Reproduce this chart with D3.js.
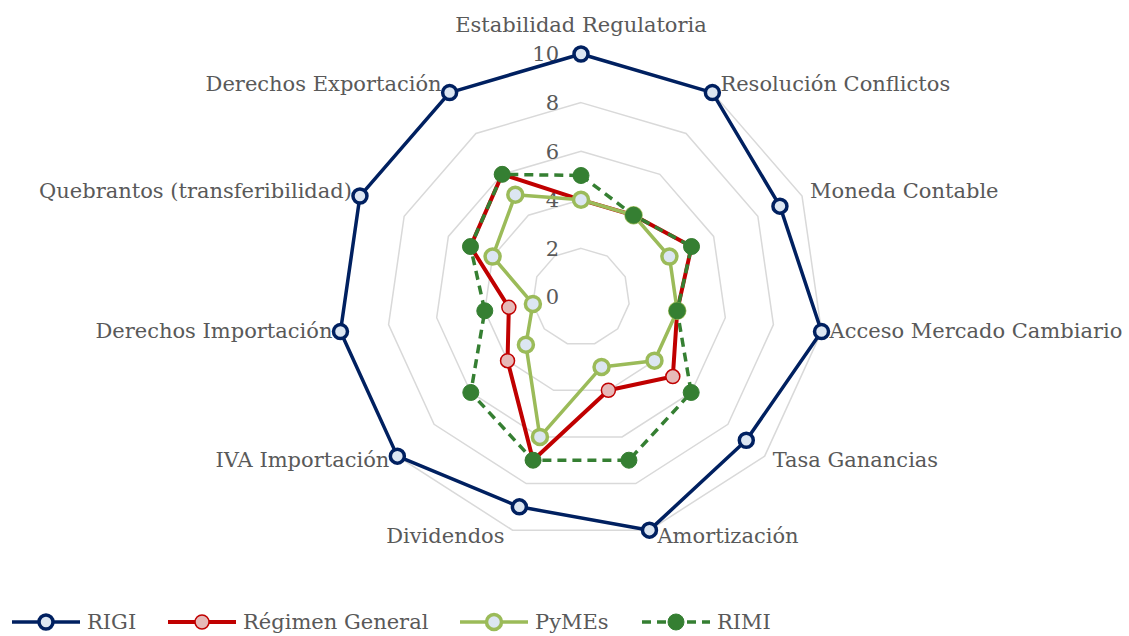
<!DOCTYPE html>
<html>
<head>
<meta charset="utf-8">
<script src="https://cdn.jsdelivr.net/npm/d3@7"></script>
<style>
  html, body { margin: 0; padding: 0; background: #ffffff; }
  svg { display: block; }
  text { font-family: "DejaVu Serif", "Liberation Serif", serif; fill: #595959; }
</style>
</head>
<body>
<svg id="chart" width="1129" height="636"></svg>
<script>
// Radar chart: comparison of investment regimes across 11 dimensions
const categories = [
  "Estabilidad Regulatoria",
  "Resolución Conflictos",
  "Moneda Contable",
  "Acceso Mercado Cambiario",
  "Tasa Ganancias",
  "Amortización",
  "Dividendos",
  "IVA Importación",
  "Derechos Importación",
  "Quebrantos (transferibilidad)",
  "Derechos Exportación"
];
const rigi = [10, 10, 9, 10, 9, 10, 9, 10, 10, 10, 10];
const regimenGeneral = [4, 4, 5, 4, 5, 4, 7, 4, 3, 5, 6];
const pymes = [4, 4, 4, 4, 4, 3, 6, 3, 2, 4, 5];
const rimi = [5, 4, 5, 4, 6, 7, 7, 6, 4, 5, 6];
const ticks = [0, 2, 4, 6, 8, 10];
const seriesNames = ["RIGI", "Régimen General", "PyMEs", "RIMI"];

const series = [
  { name: seriesNames[0], values: rigi, stroke: "#002060", width: 3.5, dash: null,
    marker: { r: 7, fill: "#dce6f2", stroke: "#002060", sw: 3.5 } },
  { name: seriesNames[1], values: regimenGeneral, stroke: "#c00000", width: 4, dash: null,
    marker: { r: 7, fill: "#e6b9b8", stroke: "#c00000", sw: 1.5 } },
  { name: seriesNames[2], values: pymes, stroke: "#9bbb59", width: 3.5, dash: null,
    marker: { r: 7.5, fill: "#dce6f2", stroke: "#9bbb59", sw: 3.5 } },
  { name: seriesNames[3], values: rimi, stroke: "#357f32", width: 3.5, dash: "9,6",
    marker: { r: 8, fill: "#357f32", stroke: "#357f32", sw: 1 } }
];

const svg = d3.select("#chart");
const cx = 581, cy = 297, R = 243;
const n = categories.length;
const r = d3.scaleLinear().domain([0, 10]).range([0, R]);
const angle = d3.scaleLinear().domain([0, n]).range([0, 2 * Math.PI]);
const fontSize = 21;

const pt = (i, v) => {
  const a = angle(i);
  return [cx + r(v) * Math.sin(a), cy - r(v) * Math.cos(a)];
};

// grid rings (no ring at 0 — it collapses to the centre)
const g = svg.append("g");
ticks.filter(t => t > 0).forEach(t => {
  const pts = d3.range(n).map(i => pt(i, t));
  g.append("path")
    .attr("d", d3.line()(pts) + "Z")
    .attr("fill", "none")
    .attr("stroke", "#d9d9d9")
    .attr("stroke-width", 1.5);
});

// tick labels along the vertical axis
g.selectAll("text.tick")
  .data(ticks)
  .join("text")
  .attr("class", "tick")
  .attr("x", cx - 22)
  .attr("y", d => cy - r(d))
  .attr("dy", "0.35em")
  .attr("text-anchor", "end")
  .attr("font-size", fontSize)
  .text(d => d);

// category labels around the outside
categories.forEach((c, i) => {
  const a = angle(i);
  const [x, y] = pt(i, 10);
  const s = Math.sin(a), co = Math.cos(a);
  let anchor = "middle", tx = x, ty = y;
  if (Math.abs(s) < 0.01) {
    ty = y - 29;
  } else {
    anchor = s > 0 ? "start" : "end";
    tx = x + (s > 0 ? 8 : -8);
    ty = y - co * 8 - 2;
  }
  g.append("text")
    .attr("x", tx)
    .attr("y", ty)
    .attr("dy", "0.35em")
    .attr("text-anchor", anchor)
    .attr("font-size", fontSize)
    .text(c);
});

// series polygons and markers
const line = d3.line();
series.forEach(s => {
  const pts = s.values.map((v, i) => pt(i, v));
  const sg = svg.append("g");
  sg.append("path")
    .attr("d", line(pts) + "Z")
    .attr("fill", "none")
    .attr("stroke", s.stroke)
    .attr("stroke-width", s.width)
    .attr("stroke-linejoin", "round")
    .attr("stroke-dasharray", s.dash);
  sg.selectAll("circle")
    .data(pts)
    .join("circle")
    .attr("cx", d => d[0])
    .attr("cy", d => d[1])
    .attr("r", s.marker.r)
    .attr("fill", s.marker.fill)
    .attr("stroke", s.marker.stroke)
    .attr("stroke-width", s.marker.sw);
});

// legend
const legendX = [12, 168, 460, 642];
const ly = 622;
series.forEach((s, i) => {
  const lg = svg.append("g").attr("transform", `translate(${legendX[i]},${ly})`);
  lg.append("line")
    .attr("x1", 0).attr("x2", 68)
    .attr("y1", 0).attr("y2", 0)
    .attr("stroke", s.stroke)
    .attr("stroke-width", s.width)
    .attr("stroke-dasharray", s.dash);
  lg.append("circle")
    .attr("cx", 34).attr("cy", 0)
    .attr("r", s.marker.r)
    .attr("fill", s.marker.fill)
    .attr("stroke", s.marker.stroke)
    .attr("stroke-width", s.marker.sw);
  lg.append("text")
    .attr("x", 75)
    .attr("y", 0)
    .attr("dy", "0.35em")
    .attr("font-size", fontSize)
    .text(s.name);
});
</script>
</body>
</html>
